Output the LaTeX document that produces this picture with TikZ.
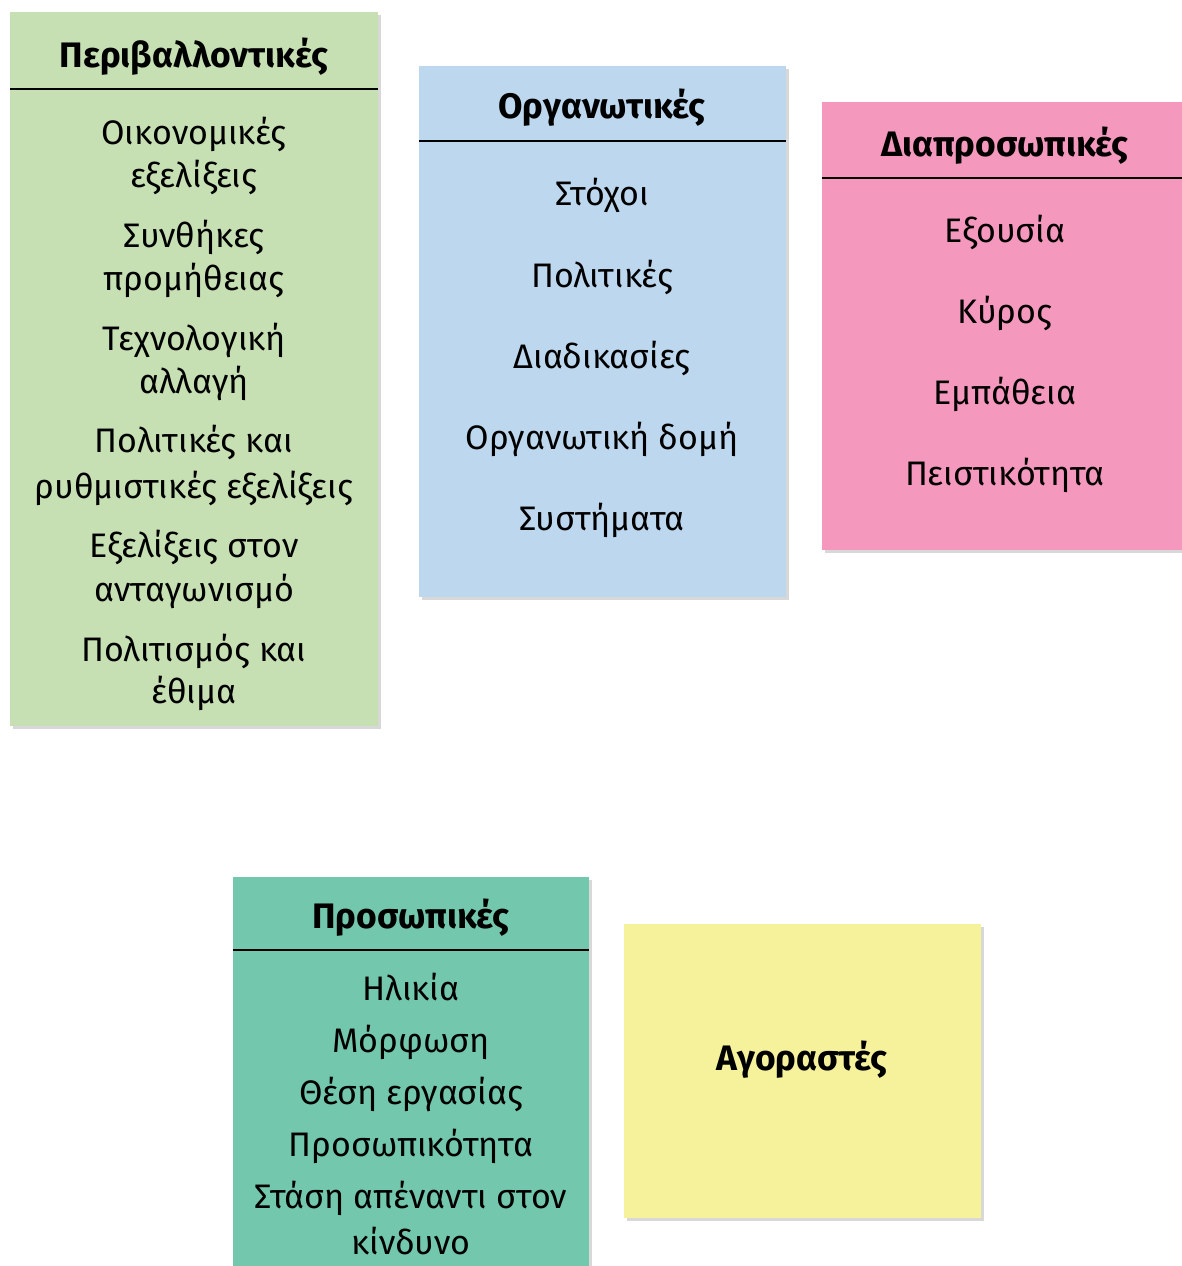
\documentclass[tikz,border=0pt]{standalone}
\usepackage{fontspec}
\setmainfont{Fira Sans}
\usetikzlibrary{fit}
\usetikzlibrary{shadows}

\definecolor{envgreen}{RGB}{198,224,180}
\definecolor{orgblue}{RGB}{189,215,238}
\definecolor{intpink}{RGB}{244,152,190}
\definecolor{perteal}{RGB}{114,199,172}
\definecolor{buyyellow}{RGB}{246,241,155}

\begin{document}
\begin{tikzpicture}[
        x=0.5pt, y=-0.5pt,
        panel/.style={
            rectangle,
            inner sep=0pt,
            drop shadow={shadow xshift=1.4pt, shadow yshift=-1.4pt, opacity=0.3},
        },
        heading/.style={
            anchor=base,
            inner sep=0pt,
            font=\bfseries\fontsize{17.7}{21}\selectfont,
        },
        entry/.style={
            anchor=base,
            inner sep=0pt,
            font=\fontsize{17}{21}\selectfont,
        },
        headrule/.style={
            draw,
            line width=1pt,
        }
    ]

    \useasboundingbox [fill=white] (0,0) rectangle (1182,1266);

    % boxes
    \node (env) [panel, fill=envgreen, fit={(10,12) (378,726)}] {};
    \node (org) [panel, fill=orgblue, fit={(419,66) (786,597)}] {};
    \node (int) [panel, fill=intpink, fit={(822,102) (1190,550)}] {};
    \node (per) [panel, fill=perteal, fit={(233,877) (589,1275)}] {};
    \node (buy) [panel, fill=buyyellow, fit={(624,924) (981,1218)}] {};

    % Περιβαλλοντικές
    \node (envhead) at (194,67) [heading] {Περιβαλλοντικές};
    \draw [headrule] (env.west |- 0,89) -- (env.east |- 0,89);
    \node (env1a) at (194,144) [entry] {Οικονομικές};
    \node (env1b) at (194,187) [entry] {εξελίξεις};
    \node (env2a) at (194,247) [entry] {Συνθήκες};
    \node (env2b) at (194,290) [entry] {προμήθειας};
    \node (env3a) at (194,350) [entry] {Τεχνολογική};
    \node (env3b) at (194,393) [entry] {αλλαγή};
    \node (env4a) at (194,452) [entry] {Πολιτικές και};
    \node (env4b) at (194,498) [entry] {ρυθμιστικές εξελίξεις};
    \node (env5a) at (194,557) [entry] {Εξελίξεις στον};
    \node (env5b) at (194,601) [entry] {ανταγωνισμό};
    \node (env6a) at (194,661) [entry] {Πολιτισμός και};
    \node (env6b) at (194,703) [entry] {έθιμα};

    % Οργανωτικές
    \node (orghead) at (602,118) [heading] {Οργανωτικές};
    \draw [headrule] (org.west |- 0,141) -- (org.east |- 0,141);
    \node (org1) at (602,205) [entry] {Στόχοι};
    \node (org2) at (602,287) [entry] {Πολιτικές};
    \node (org3) at (602,368) [entry] {Διαδικασίες};
    \node (org4) at (602,449) [entry] {Οργανωτική δομή};
    \node (org5) at (602,530) [entry] {Συστήματα};

    % Διαπροσωπικές
    \node (inthead) at (1005,156) [heading] {Διαπροσωπικές};
    \draw [headrule] (int.west |- 0,178) -- (int.east |- 0,178);
    \node (int1) at (1005,242) [entry] {Εξουσία};
    \node (int2) at (1005,323) [entry] {Κύρος};
    \node (int3) at (1005,404) [entry] {Εμπάθεια};
    \node (int4) at (1005,485) [entry] {Πειστικότητα};

    % Προσωπικές
    \node (perhead) at (411,928) [heading] {Προσωπικές};
    \draw [headrule] (per.west |- 0,950) -- (per.east |- 0,950);
    \node (per1) at (411,1000) [entry] {Ηλικία};
    \node (per2) at (411,1052) [entry] {Μόρφωση};
    \node (per3) at (411,1104) [entry] {Θέση εργασίας};
    \node (per4) at (411,1156) [entry] {Προσωπικότητα};
    \node (per5a) at (411,1208) [entry] {Στάση απέναντι στον};
    \node (per5b) at (411,1254) [entry] {κίνδυνο};

    % Αγοραστές
    \node (buyhead) at (802,1060) [heading, anchor=center] {Αγοραστές};

\end{tikzpicture}
\end{document}
